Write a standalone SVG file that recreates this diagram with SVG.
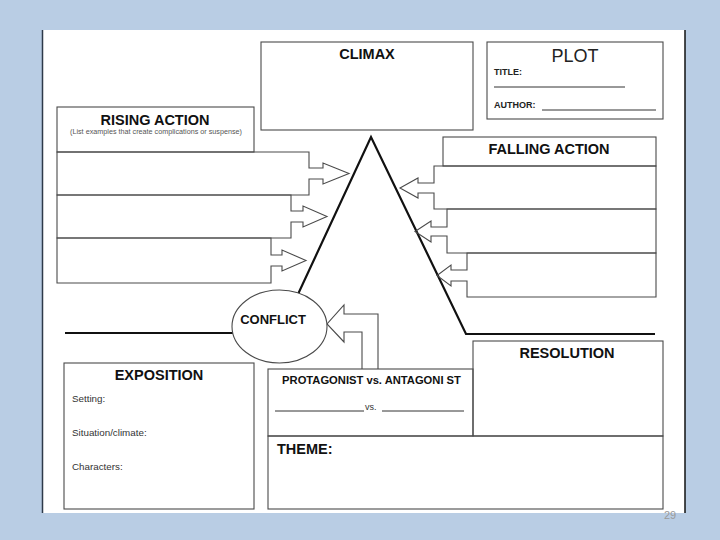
<svg xmlns="http://www.w3.org/2000/svg" width="720" height="540" viewBox="0 0 720 540">
<style>
.box{fill:none;stroke:#4a4a4a;stroke-width:1.1}
.h{font-family:"Liberation Sans",Arial,sans-serif;font-weight:bold;font-size:14.5px;fill:#111;text-anchor:middle}
.hl{font-family:"Liberation Sans",Arial,sans-serif;font-weight:bold;font-size:14.5px;fill:#111;text-anchor:start}
.s{font-family:"Liberation Sans",Arial,sans-serif;font-size:9.8px;fill:#333}
.lbl{font-family:"Liberation Sans",Arial,sans-serif;font-weight:bold;font-size:9px;fill:#222}
.ul{stroke:#333;stroke-width:1}
.plot{fill:none;stroke:#111;stroke-width:2.2;stroke-linejoin:miter}
</style>
<rect x="0" y="0" width="720" height="540" fill="#b9cde4"/>
<rect x="42" y="30" width="643" height="483" fill="#ffffff"/>
<line x1="42.5" y1="30" x2="42.5" y2="513" stroke="#2e3a4a" stroke-width="1.5"/>
<line x1="685" y1="30" x2="685" y2="513" stroke="#111" stroke-width="1.5"/>

<g id="connectors">
<polyline class="plot" points="65,333 280,333 371,137 466,334 655,334"/>
<path id="conflict-arrow" class="box" d="M378,369 V314 H344 V305 L327,324 L344,342 V332 H362 V369"/>
</g>

<g id="climax">
<rect class="box" x="261" y="42" width="212" height="88"/>
<text class="h" x="367" y="59">CLIMAX</text>
</g>

<g id="plot">
<rect class="box" x="487" y="42" width="176" height="77" stroke="#666"/>
<text x="575" y="62" font-family="'Liberation Sans',Arial,sans-serif" font-size="18" fill="#222" text-anchor="middle">PLOT</text>
<text class="lbl" x="494" y="75">TITLE:</text>
<line class="ul" x1="494" y1="87" x2="625" y2="87"/>
<text class="lbl" x="494" y="108">AUTHOR:</text>
<line class="ul" x1="542" y1="110" x2="656" y2="110"/>
</g>

<g id="rising-action">
<rect class="box" x="57" y="107" width="197" height="45"/>
<text class="h" x="155" y="125">RISING ACTION</text>
<text x="156" y="133.5" font-family="'Liberation Sans',Arial,sans-serif" font-size="6.5" fill="#555" text-anchor="middle" textLength="172" lengthAdjust="spacingAndGlyphs">(List examples that create complications or suspense)</text>
</g>
<g id="rising-1"><path class="box" d="M57,152 H309 V168 H323 V163 L349,173.5 L323,184 V179 H309 V195 H57 Z"/></g>
<g id="rising-2"><path class="box" d="M57,195 H291 V211 H303 V206 L327,216.5 L303,227 V222 H291 V238 H57 Z"/></g>
<g id="rising-3"><path class="box" d="M57,238 H271 V255 H282 V250 L306,260.5 L282,271 V266 H271 V283 H57 Z"/></g>

<g id="falling-action">
<rect class="box" x="443" y="137" width="213" height="29"/>
<text class="h" x="549" y="154">FALLING ACTION</text>
</g>
<g id="falling-1"><path class="box" d="M656,166 H434 V183 H418 V178 L400,188 L418,198 V193 H434 V209 H656 Z"/></g>
<g id="falling-2"><path class="box" d="M656,209 H447 V227 H431 V221 L415,231.5 L431,242 V236 H447 V253 H656 Z"/></g>
<g id="falling-3"><path class="box" d="M656,253 H467 V270 H451 V265 L437,275.5 L451,286 V281 H467 V297 H656 Z"/></g>

<g id="conflict">
<ellipse cx="279.5" cy="326.5" rx="47.5" ry="36.5" fill="#fff" stroke="#4a4a4a" stroke-width="1.1"/>
<text x="273" y="324" font-family="'Liberation Sans',Arial,sans-serif" font-weight="bold" font-size="13" fill="#111" text-anchor="middle">CONFLICT</text>
</g>

<g id="exposition">
<rect class="box" x="64" y="363" width="190" height="146"/>
<text class="h" x="159" y="380">EXPOSITION</text>
<text class="s" x="72" y="402">Setting:</text>
<text class="s" x="72" y="436">Situation/climate:</text>
<text class="s" x="72" y="470">Characters:</text>
</g>

<g id="protagonist-antagonist">
<rect class="box" x="268" y="369" width="205" height="67"/>
<text x="371.5" y="384" font-family="'Liberation Sans',Arial,sans-serif" font-weight="bold" font-size="11.2" fill="#111" text-anchor="middle">PROTAGONIST vs. ANTAGONI ST</text>
<line class="ul" x1="275" y1="411" x2="364" y2="411"/>
<text x="365" y="410" font-family="'Liberation Sans',Arial,sans-serif" font-size="9" fill="#333">vs.</text>
<line class="ul" x1="382" y1="411" x2="464" y2="411"/>
</g>

<g id="resolution">
<rect class="box" x="473" y="341" width="190" height="95"/>
<text class="h" x="567" y="358">RESOLUTION</text>
</g>

<g id="theme">
<rect class="box" x="268" y="436" width="395" height="73"/>
<text class="hl" x="277" y="454">THEME:</text>
</g>

<text x="670" y="519" font-family="'Liberation Sans',Arial,sans-serif" font-size="11" fill="#9a9a9a" text-anchor="middle">29</text>
</svg>
